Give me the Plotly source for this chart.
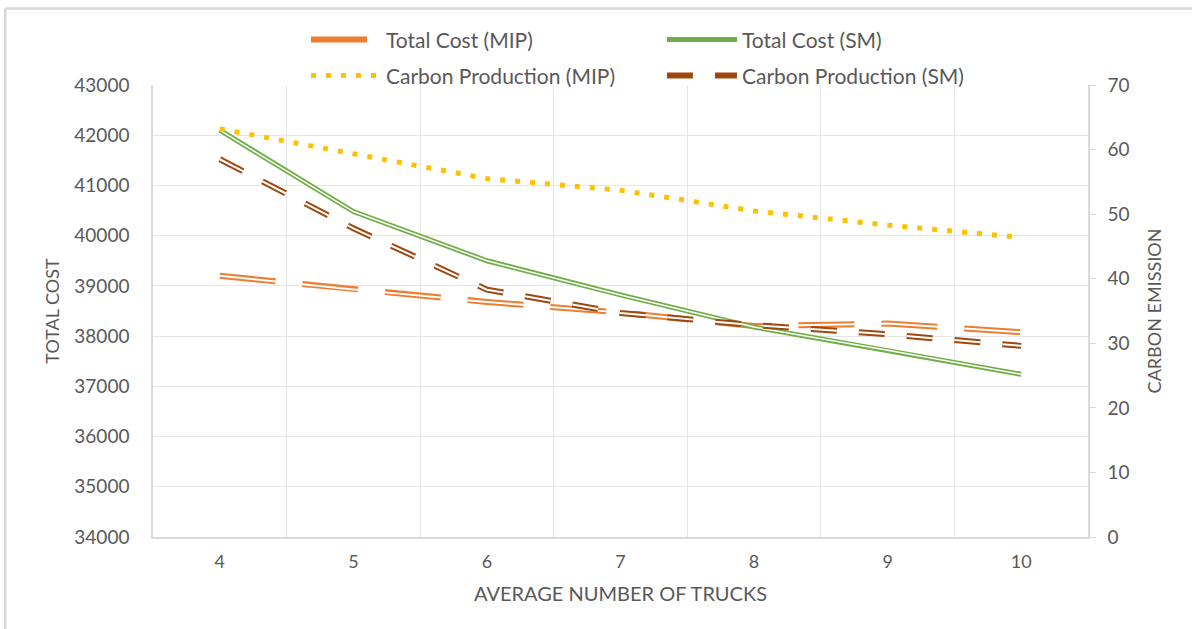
import plotly.graph_objects as go

trucks = ["4", "5", "6", "7", "8", "9", "10"]
cost_mip = [39200, 38930, 38680, 38470, 38200, 38250, 38080]
cost_sm = [42100, 40480, 39500, 38820, 38180, 37720, 37240]
carbon_mip = [63.2, 59.4, 55.5, 53.7, 50.5, 48.3, 46.4]
carbon_sm = [58.5, 47.8, 38.3, 34.7, 32.8, 31.4, 29.6]

FONT = "Lato"
GREY = "#595959"
GRID = "#E6E6E6"

fig = go.Figure()

# Total Cost (MIP) - hollow long dash orange
fig.add_trace(go.Scatter(x=trucks, y=cost_mip, mode="lines", name="Total Cost (MIP)",
                         line=dict(color="#ED7D31", width=6, dash="56px,27px"),
                         legend="legend", yaxis="y"))
fig.add_trace(go.Scatter(x=trucks, y=cost_mip, mode="lines", showlegend=False, hoverinfo="skip",
                         line=dict(color="#FFFFFF", width=2, dash="56px,27px"), yaxis="y"))
# Total Cost (SM) - green double line
fig.add_trace(go.Scatter(x=trucks, y=cost_sm, mode="lines", name="Total Cost (SM)",
                         line=dict(color="#70AD47", width=5),
                         legend="legend", yaxis="y"))
fig.add_trace(go.Scatter(x=trucks, y=cost_sm, mode="lines", showlegend=False, hoverinfo="skip",
                         line=dict(color="#FFFFFF", width=1.5), yaxis="y"))
# Carbon Production (MIP) - yellow dotted
fig.add_trace(go.Scatter(x=trucks, y=carbon_mip, mode="lines", name="Carbon Production (MIP)",
                         line=dict(color="#FFC000", width=5, dash="5px,10px"),
                         legend="legend2", yaxis="y2"))
# Carbon Production (SM) - brown hollow dash
fig.add_trace(go.Scatter(x=trucks, y=carbon_sm, mode="lines", name="Carbon Production (SM)",
                         line=dict(color="#9E480E", width=6, dash="26px,22px"),
                         legend="legend2", yaxis="y2"))
fig.add_trace(go.Scatter(x=trucks, y=carbon_sm, mode="lines", showlegend=False, hoverinfo="skip",
                         line=dict(color="#FFFFFF", width=2, dash="26px,22px"), yaxis="y2"))

fig.update_layout(
    width=1192, height=629,
    margin=dict(l=153, r=104, t=85, b=92),
    paper_bgcolor="white", plot_bgcolor="white",
    font=dict(family=FONT, color=GREY, size=15),
    xaxis=dict(type="category", tickson="boundaries", range=[-0.5, 6.5],
               showgrid=True, gridcolor=GRID, gridwidth=1,
               showline=True, linecolor="#D9D9D9", linewidth=1.5, ticks="",
               ticklabelstandoff=8, tickfont=dict(size=18, color=GREY),
               title=dict(text="AVERAGE NUMBER OF TRUCKS", font=dict(size=20, color=GREY), standoff=16)),
    yaxis=dict(range=[34000, 43000], dtick=1000, tickformat="d", showgrid=True, gridcolor=GRID, gridwidth=1,
               showline=True, linecolor="#D9D9D9", linewidth=1.5, ticks="", zeroline=False,
               ticklabelstandoff=18, tickfont=dict(size=19, color=GREY),
               title=dict(text="TOTAL COST", font=dict(size=18, color=GREY), standoff=10)),
    yaxis2=dict(range=[0, 70], dtick=10, overlaying="y", side="right", showgrid=False,
                showline=True, linecolor="#D9D9D9", linewidth=1.5, ticks="outside", ticklen=6,
                tickcolor="#D9D9D9", zeroline=False, ticklabelstandoff=8,
                tickfont=dict(size=19, color=GREY),
                title=dict(text="CARBON EMISSION", font=dict(size=18, color=GREY), standoff=20)),
    legend=dict(orientation="h", x=0.1636, xanchor="left", y=1.10, yanchor="middle",
                entrywidth=271, entrywidthmode="pixels", bgcolor="rgba(0,0,0,0)",
                font=dict(size=21, color=GREY), itemwidth=70),
    legend2=dict(orientation="h", x=0.1636, xanchor="left", y=1.02, yanchor="middle",
                 entrywidth=271, entrywidthmode="pixels", bgcolor="rgba(0,0,0,0)",
                 font=dict(size=21, color=GREY), itemwidth=70),
    showlegend=True,
)

# outer chart border (top and left visible)
fig.add_shape(type="line", xref="paper", yref="paper", x0=-0.158, x1=1.2, y0=1.169, y1=1.169,
              line=dict(color="#D9D9D9", width=2.5))
fig.add_shape(type="line", xref="paper", yref="paper", x0=-0.158, x1=-0.158, y0=-0.3, y1=1.169,
              line=dict(color="#D9D9D9", width=2.5))

fig.write_html("out.html", config={"displayModeBar": False},
               post_script="document.body.style.margin='0';")
